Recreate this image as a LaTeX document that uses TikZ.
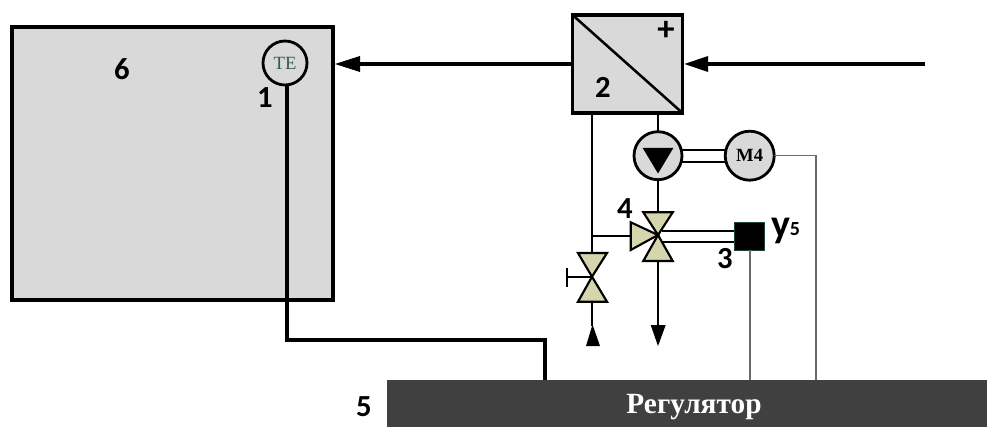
\documentclass[tikz,border=0pt]{standalone}
\usepackage{fontspec}
\setmainfont{Liberation Serif}
\newfontfamily\lab{Carlito}
\definecolor{boxgray}{HTML}{D9D9D9}
\definecolor{valvecol}{HTML}{D6D6AE}
\definecolor{bar}{HTML}{404040}
\definecolor{tegreen}{HTML}{2F5F4F}
\definecolor{thing}{HTML}{6A6A6A}
\tikzset{
  unit/.style={x=0.75pt,y=-0.75pt},
  pipe/.style={draw=black,line width=2.3pt},
  pipemid/.style={draw=black,line width=1.6pt},
  wire/.style={draw=thing,line width=0.9pt},
  tube/.style={draw=black,line width=1.6pt},
  vessel/.style={draw=black,fill=boxgray,line width=2.3pt,rectangle,inner sep=0pt,outer sep=0pt,anchor=north west},
  disc/.style={circle,draw=black,fill=boxgray,line width=2.1pt,inner sep=0pt,outer sep=0pt},
  lbl/.style={font=\lab\bfseries\fontsize{23}{23}\selectfont,inner sep=0pt},
  valvetri/.style={draw=black,fill=valvecol,line width=1.6pt,line join=miter},
  tip/.style={fill=black,draw=none},
}
\begin{document}
\begin{tikzpicture}[unit]
\useasboundingbox (0,0) rectangle (987,427);
% vessel and exchanger
\node[vessel,minimum width=321*0.75pt,minimum height=273*0.75pt] (room) at (12,27) {};
\node[vessel,minimum width=110*0.75pt,minimum height=98*0.75pt] (hx) at (572.5,15) {};
\draw[line width=1.9pt] (hx.north west) -- (hx.south east);
\node[font=\lab\bfseries\fontsize{26}{26}\selectfont,inner sep=0pt] (plus) at (666,31) {+};
\node[lbl] (n2) at (603,87) {2};
% supply arrows
\coordinate (in) at (925,64);
\coordinate (hxL) at (572.5,64);
\draw[pipe] (in) -- (708,64);
\fill[tip] (684.5,64) -- (708,56) -- (708,72) -- cycle;
\draw[pipe] (hxL) -- (360,64);
\fill[tip] (335,64) -- (360,56) -- (360,72) -- cycle;
% TE sensor
\node[disc,minimum size=44*0.75pt] (te) at (285,63) {};
\node[font=\fontsize{14}{14}\selectfont,text=tegreen,inner sep=0pt] at (te) {TE};
\node[lbl] (n1) at (265,98) {1};
\node[lbl] (n6) at (122,69) {6};
% controller
\node[rectangle,fill=bar,draw=none,minimum width=600*0.75pt,minimum height=47*0.75pt,inner sep=0pt,outer sep=0pt,anchor=north west] (ctl) at (387,380) {};
\node[text=white,font=\bfseries\fontsize{22}{22}\selectfont,inner sep=0pt] (ctltext) at (694,407.5) {Регулятор};
\node[lbl] (n5) at (364,406.5) {5};
\coordinate (sigA) at (545,380);
\draw[pipe,line join=miter] (287,84) -- (287,340) -- (545,340) -- (sigA);
% pump and motor
\node[disc,minimum size=48*0.75pt] (pump) at (658,155.7) {};
\node[disc,minimum size=49*0.75pt,font=\bfseries\fontsize{14}{14}\selectfont] (motor) at (749.7,155.7) {M4};
\fill[tip] (642.7,148) -- (673.3,148) -- (658,173.5) -- cycle;
\draw[tube] (pump.east |- 0,150) -- (motor.west |- 0,150);
\draw[tube] (pump.east |- 0,161.7) -- (motor.west |- 0,161.7);
\coordinate (hxA) at (658,113);
\coordinate (hxB) at (592,113);
\draw[pipemid] (hxA) -- (pump.north);
% three-way valve
\coordinate (v3) at (658,235);
\coordinate (v3L) at (630.7,236);
\coordinate (tee) at (592,236);
\draw[pipemid] (pump.south) -- (658,212);
\draw[pipemid] (hxB) -- (592,253);
\draw[pipemid,line width=1.3pt] (tee) -- (v3L);
\node[rectangle,fill=black,draw={rgb,255:red,30;green,70;blue,50},line width=0.6pt,outer sep=0pt,minimum width=30*0.75pt,minimum height=27.5*0.75pt,inner sep=0pt] (act) at (749.2,236.5) {};
\draw[tube] (662,230.7) -- (act.west |- 0,230.7);
\draw[tube] (658,242.3) -- (act.west |- 0,242.3);
\draw[valvetri] (643.3,212.3) -- (672.7,212.3) -- (v3) -- cycle;
\draw[valvetri] (643.3,261) -- (672.7,261) -- (v3) -- cycle;
\draw[valvetri] (630.7,222.3) -- (630.7,250) -- (v3) -- cycle;
% outlet
\draw[pipemid] (658,261) -- (658,325);
\fill[tip] (650.7,325) -- (665.7,325) -- (658,346) -- cycle;
% hand valve
\coordinate (v2) at (592,276.7);
\draw[valvetri] (578,253) -- (607,253) -- (v2) -- cycle;
\draw[valvetri] (578,301.7) -- (607,301.7) -- (v2) -- cycle;
\draw[line width=1.4pt] (v2) -- (566.5,276.7);
\draw[line width=1.5pt] (566.5,268) -- (566.5,287);
\draw[pipemid] (592,301.7) -- (592,326);
\fill[tip] (592.5,324.5) -- (600,346) -- (586,346) -- cycle;
% signal wires
\draw[wire,line join=miter] (motor.east) -- (816,155.7) -- (816,380);
\draw[wire] (750,250) -- (750,380);
% labels
\node[lbl] (n4) at (625,208.5) {4};
\node[lbl] (n3) at (725,259) {3};
\node[font=\lab\bfseries\fontsize{30}{30}\selectfont,inner sep=0pt,anchor=base] (ny) at (781,238) {y};
\node[font=\lab\bfseries\fontsize{15}{15}\selectfont,inner sep=0pt,anchor=base] (n5b) at (795,236) {5};
\end{tikzpicture}
\end{document}
